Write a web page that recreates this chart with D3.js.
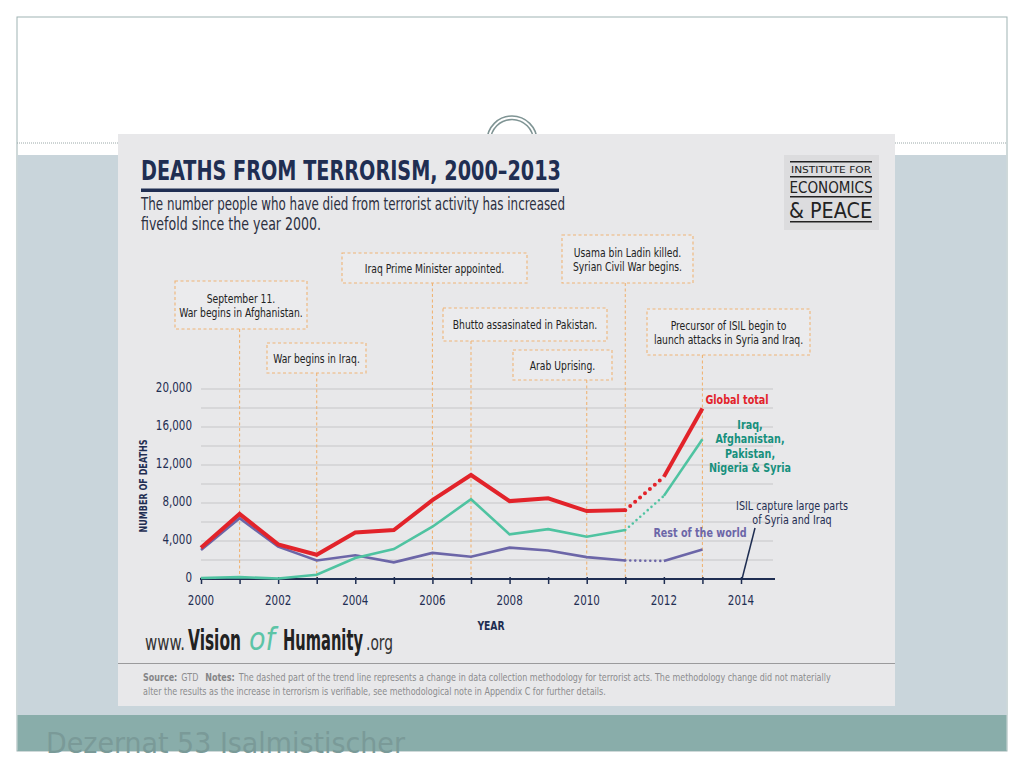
<!DOCTYPE html>
<html>
<head>
<meta charset="utf-8">
<script src="https://cdn.jsdelivr.net/npm/d3@7"></script>
<style>
  html, body { margin: 0; padding: 0; background: #fff; }
  svg { display: block; }
  text { font-family: "Liberation Sans Narrow", "DejaVu Sans Condensed", "Roboto", sans-serif; }
</style>
</head>
<body>
<div id="chart"></div>
<script>
// values
const years = [2000, 2001, 2002, 2003, 2004, 2005, 2006, 2007, 2008, 2009, 2010, 2011, 2012, 2013];
const globalTotal = [3300, 6850, 3650, 2550, 4900, 5150, 8300, 10950, 8200, 8500, 7150, 7250, 10750, 17950];
const fiveCountries = [100, 200, 50, 450, 2200, 3150, 5500, 8400, 4700, 5250, 4450, 5150, 8750, 14700];
const restOfWorld = [3050, 6400, 3400, 1950, 2500, 1750, 2750, 2350, 3300, 3000, 2300, 1950, 1900, 3100];
const methodChange = [2011, 2012];   // dashed stretch

const yTicks = [0, 4000, 8000, 12000, 16000, 20000];
const xTicks = [2000, 2002, 2004, 2006, 2008, 2010, 2012, 2014];

const eventYears = [2001, 2003, 2006, 2007, 2010, 2011, 2013];
const eventLabels = [
  ["September 11.", "War begins in Afghanistan."],
  ["War begins in Iraq."],
  ["Iraq Prime Minister appointed."],
  ["Bhutto assasinated in Pakistan."],
  ["Arab Uprising."],
  ["Usama bin Ladin killed.", "Syrian Civil War begins."],
  ["Precursor of ISIL begin to", "launch attacks in Syria and Iraq."]
];
const isilYear = 2014;

// box layout for the event labels [x, y, w, h]
const eventBoxes = [
  [175, 281, 132, 48],
  [267, 343, 99, 30],
  [342, 253, 185, 30],
  [443, 308, 164, 33],
  [513, 350, 99, 30],
  [562, 235, 131, 48],
  [647, 309, 163, 46]
];

const W = 1024, H = 768;
const navy = "#1f2e52";
const red = "#e2232a", teal = "#4fc3a1", tealText = "#17907d", purple = "#6c66a8";
const orange = "#efb476";
const squeeze = 0.82;   // fake a narrow face

const svg = d3.select("#chart").append("svg")
  .attr("width", W).attr("height", H);

// ---- slide frame
svg.append("rect").attr("x", 17).attr("y", 17).attr("width", 990).attr("height", 734)
  .attr("fill", "#fff").attr("stroke", "#9fb3b3").attr("stroke-width", 1);
svg.append("line").attr("x1", 17).attr("x2", 1007).attr("y1", 143).attr("y2", 143)
  .attr("stroke", "#9aa8a8").attr("stroke-dasharray", "1,1");
svg.append("rect").attr("x", 17.5).attr("y", 155).attr("width", 989).attr("height", 560)
  .attr("fill", "#c9d5db");
svg.append("rect").attr("x", 17.5).attr("y", 715).attr("width", 989).attr("height", 36)
  .attr("fill", "#89adaa");
[25, 21.5].forEach(r => {
  svg.append("circle").attr("cx", 512).attr("cy", 141).attr("r", r)
    .attr("fill", "none").attr("stroke", "#7f9494").attr("stroke-width", 1.6);
});

// ---- infographic card
svg.append("rect").attr("x", 118).attr("y", 134).attr("width", 777).attr("height", 572)
  .attr("fill", "#e8e8ea");

svg.append("text").attr("x", 141).attr("y", 180)
  .attr("fill", navy).attr("font-size", 27).attr("font-weight", "bold")
  .attr("textLength", 420).attr("lengthAdjust", "spacingAndGlyphs")
  .text("DEATHS FROM TERRORISM, 2000–2013");
svg.append("rect").attr("x", 141).attr("y", 188.5).attr("width", 418).attr("height", 3.5)
  .attr("fill", navy);
svg.append("text").attr("x", 141).attr("y", 210).attr("fill", "#2b2f3f").attr("font-size", 18.5)
  .attr("textLength", 424).attr("lengthAdjust", "spacingAndGlyphs")
  .text("The number people who have died from terrorist activity has increased");
svg.append("text").attr("x", 141).attr("y", 229.5).attr("fill", "#2b2f3f").attr("font-size", 18.5)
  .attr("textLength", 180).attr("lengthAdjust", "spacingAndGlyphs")
  .text("fivefold since the year 2000.");

// institute logo
const logo = svg.append("g");
logo.append("rect").attr("x", 784).attr("y", 155).attr("width", 95).attr("height", 75).attr("fill", "#dcdcde");
[161.7, 176.7, 196.7, 221.7].forEach(y => {
  logo.append("line").attr("x1", 790).attr("x2", 872).attr("y1", y).attr("y2", y)
    .attr("stroke", "#222").attr("stroke-width", 1.4);
});
logo.append("text").attr("x", 831).attr("y", 172.5).attr("text-anchor", "middle")
  .attr("font-size", 9.5).attr("fill", "#222").attr("textLength", 80).attr("lengthAdjust", "spacingAndGlyphs")
  .text("INSTITUTE FOR");
logo.append("text").attr("x", 831).attr("y", 193).attr("text-anchor", "middle")
  .attr("font-size", 15).attr("fill", "#222").attr("textLength", 83).attr("lengthAdjust", "spacingAndGlyphs")
  .text("ECONOMICS");
logo.append("text").attr("x", 830.5).attr("y", 218).attr("text-anchor", "middle")
  .attr("font-size", 22).attr("fill", "#222").attr("textLength", 83).attr("lengthAdjust", "spacingAndGlyphs")
  .text("& PEACE");

// ---- chart
const x = d3.scaleLinear().domain([2000, 2014]).range([201, 741]);
const y = d3.scaleLinear().domain([0, 20000]).range([579, 389]);

// gridlines every 2,000
svg.append("g").selectAll("line")
  .data(d3.range(2000, 20001, 2000))
  .join("line")
  .attr("x1", 201).attr("x2", 773)
  .attr("y1", d => y(d)).attr("y2", d => y(d))
  .attr("stroke", "#c6c6c8").attr("stroke-width", 1.2);

// y axis labels
const yAxis = svg.append("g").attr("transform", "translate(192,0)")
  .call(d3.axisLeft(y).tickValues(yTicks).tickSize(0).tickPadding(0).tickFormat(d3.format(",")));
yAxis.select(".domain").remove();
yAxis.selectAll("text").attr("class", "narrow").attr("font-size", 14).attr("fill", navy)
  .attr("font-family", "Liberation Sans Narrow, DejaVu Sans Condensed, sans-serif").attr("dy", "0.2em");

svg.append("text")
  .attr("transform", "translate(146.5,486) rotate(-90)")
  .attr("text-anchor", "middle").attr("font-size", 11).attr("font-weight", "bold").attr("fill", navy)
  .attr("textLength", 93).attr("lengthAdjust", "spacingAndGlyphs")
  .text("NUMBER OF DEATHS");

// event annotations
const ev = svg.append("g");
eventYears.forEach((yr, i) => {
  const [bx, by, bw, bh] = eventBoxes[i];
  ev.append("line").attr("x1", x(yr)).attr("x2", x(yr)).attr("y1", by + bh).attr("y2", 579)
    .attr("stroke", orange).attr("stroke-width", 1.1).attr("stroke-dasharray", "3,2.5");
  ev.append("rect").attr("x", bx).attr("y", by).attr("width", bw).attr("height", bh)
    .attr("fill", "#ebebed").attr("stroke", orange).attr("stroke-width", 1.1).attr("stroke-dasharray", "3,2.5");
  const lines = eventLabels[i];
  const lh = 14;
  lines.forEach((t, j) => {
    ev.append("text").attr("class", "narrow").attr("x", bx + bw / 2)
      .attr("y", by + bh / 2 + (j - (lines.length - 1) / 2) * lh + 4.5)
      .attr("text-anchor", "middle").attr("font-size", 12.5).attr("fill", "#222")
      .text(t);
  });
});

// x axis
const xAxis = svg.append("g").attr("transform", "translate(0,579)")
  .call(d3.axisBottom(x).tickValues(d3.range(2000, 2015)).tickSize(5).tickFormat(""));
xAxis.select(".domain").attr("d", "M200,0H775").attr("stroke", navy).attr("stroke-width", 2);
xAxis.selectAll(".tick line").attr("stroke", navy).attr("stroke-width", 1.5).attr("y1", -2);
svg.append("g").selectAll("text").data(xTicks).join("text")
  .attr("class", "narrow")
  .attr("x", d => x(d)).attr("y", 605).attr("text-anchor", "middle")
  .attr("font-size", 14).attr("fill", navy).text(d => d);
svg.append("text").attr("class", "narrow").attr("x", 491).attr("y", 630).attr("text-anchor", "middle")
  .attr("font-size", 12.5).attr("font-weight", "bold").attr("fill", navy).text("YEAR");

// series
const line = d3.line().x(d => x(d[0])).y(d => y(d[1]));
function drawSeries(values, color, width, dots) {
  const pts = years.map((yr, i) => [yr, values[i]]);
  const before = pts.filter(p => p[0] <= methodChange[0]);
  const mid = pts.filter(p => p[0] >= methodChange[0] && p[0] <= methodChange[1]);
  const after = pts.filter(p => p[0] >= methodChange[1]);
  const g = svg.append("g").attr("fill", "none").attr("stroke", color);
  g.append("path").attr("d", line(before)).attr("stroke-width", width).attr("stroke-linejoin", "miter");
  g.append("path").attr("d", line(after)).attr("stroke-width", width);
  g.append("path").attr("d", line(mid)).attr("stroke-width", width)
    .attr("stroke-linecap", "round").attr("stroke-dasharray", dots);
}
drawSeries(restOfWorld, purple, 2.6, "0,5");
drawSeries(fiveCountries, teal, 2.6, "0,5");
drawSeries(globalTotal, red, 4, "0,6.5");

// series labels
svg.append("text").attr("class", "narrow").attr("x", 737).attr("y", 404).attr("text-anchor", "middle")
  .attr("font-size", 13).attr("font-weight", "bold").attr("fill", red).text("Global total");
["Iraq,", "Afghanistan,", "Pakistan,", "Nigeria & Syria"].forEach((t, i) => {
  svg.append("text").attr("class", "narrow").attr("x", 750).attr("y", 428.5 + i * 14.5).attr("text-anchor", "middle")
    .attr("font-size", 13).attr("font-weight", "bold").attr("fill", tealText).text(t);
});
svg.append("text").attr("class", "narrow").attr("x", 700).attr("y", 537).attr("text-anchor", "middle")
  .attr("font-size", 13).attr("font-weight", "bold").attr("fill", purple).text("Rest of the world");

svg.append("line").attr("x1", x(isilYear) + 1).attr("y1", 579).attr("x2", 755).attr("y2", 528)
  .attr("stroke", navy).attr("stroke-width", 1.5);
["ISIL capture large parts", "of Syria and Iraq"].forEach((t, i) => {
  svg.append("text").attr("class", "narrow").attr("x", 792).attr("y", 510 + i * 14).attr("text-anchor", "middle")
    .attr("font-size", 13).attr("font-weight", "bold" === "" ? "bold" : "normal").attr("fill", navy).text(t);
});

// squeeze a text horizontally to a given width, keeping its height
function fitWidth(el, x0, y0, w) {
  const natural = el.node().getComputedTextLength();
  el.attr("x", 0).attr("y", 0)
    .attr("transform", `translate(${x0},${y0}) scale(${w / natural},1)`);
}

// footer: vision of humanity, one word-piece at a time
const vhParts = [
  { t: "www.", x: 145, w: 40, size: 22, weight: "normal", fill: "#333" },
  { t: "Vision", x: 188, w: 53, size: 29, weight: "bold", fill: "#222" },
  { t: "of", x: 249, w: 26, size: 32, weight: "normal", fill: "#5cc4a6", italic: true },
  { t: "Humanity", x: 283, w: 80, size: 29, weight: "bold", fill: "#222" },
  { t: ".org", x: 366, w: 27, size: 22, weight: "normal", fill: "#333" }
];
vhParts.forEach(p => {
  const el = svg.append("text")
    .attr("font-size", p.size).attr("font-weight", p.weight).attr("fill", p.fill).text(p.t);
  if (p.italic) el.attr("font-style", "italic").attr("font-family", "DejaVu Serif, serif");
  fitWidth(el, p.x, 650, p.w);
});

svg.append("line").attr("x1", 118).attr("x2", 895).attr("y1", 663.5).attr("y2", 663.5)
  .attr("stroke", "#9a9a9c").attr("stroke-width", 1.2);

// notes: runs laid out one after another
function textRun(x0, y0, parts) {
  let cx = x0;
  parts.forEach(([t, bold, gap]) => {
    const el = svg.append("text").attr("font-size", 11)
      .attr("font-weight", bold ? "bold" : "normal").attr("fill", bold ? "#858587" : "#8c8c8e").text(t);
    const w = el.node().getComputedTextLength() * 0.81;
    fitWidth(el, cx, y0, w);
    cx += w + gap;
  });
}
textRun(143, 681, [
  ["Source:", true, 4], ["GTD", false, 7], ["Notes:", true, 4],
  ["The dashed part of the trend line represents a change in data collection methodology for terrorist acts. The methodology change did not materially", false, 0]
]);
textRun(143, 695, [
  ["alter the results as the increase in terrorism is verifiable, see methodological note in Appendix C for further details.", false, 0]
]);

// squeeze the regular labels to a narrow width
svg.selectAll("text.narrow").each(function () {
  const w = this.getComputedTextLength() * squeeze;
  d3.select(this).attr("textLength", w).attr("lengthAdjust", "spacingAndGlyphs");
});

// slide footer caption
svg.append("text").attr("x", 46).attr("y", 753).attr("font-size", 29)
  .attr("font-family", "Open Sans, Lato, sans-serif").attr("font-weight", 300)
  .attr("textLength", 359).attr("lengthAdjust", "spacingAndGlyphs")
  .attr("fill", "#7a9a98").text("Dezernat 53   Isalmistischer");
</script>
</body>
</html>
